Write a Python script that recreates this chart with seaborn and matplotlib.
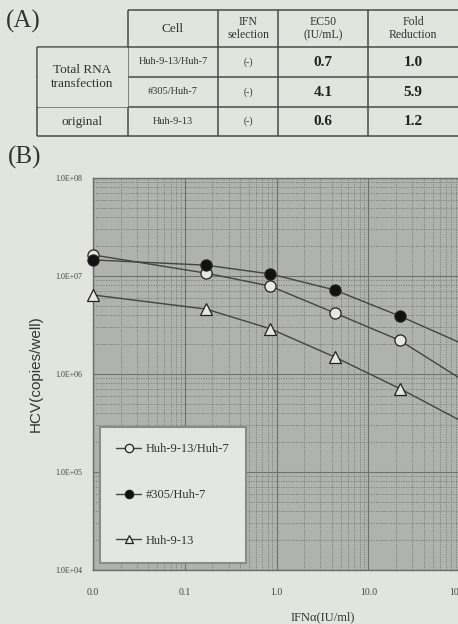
import matplotlib
matplotlib.use("Agg")
import matplotlib.pyplot as plt
import seaborn as sns
import numpy as np
import pandas as pd

# ---- data -------------------------------------------------------------
ifn_dose = [0.01, 0.17, 0.85, 4.3, 22, 110]          # IU/ml (0 plotted at 0.01)
hcv_huh913_huh7 = [1.64e7, 1.07e7, 7.9e6, 4.2e6, 2.2e6, 8.5e5]
hcv_305_huh7 = [1.46e7, 1.29e7, 1.05e7, 7.2e6, 3.9e6, 2.0e6]
hcv_huh913 = [6.4e6, 4.6e6, 2.9e6, 1.49e6, 7.1e5, 3.2e5]
series_names = ["Huh-9-13/Huh-7", "#305/Huh-7", "Huh-9-13"]

x_ticks = [0.01, 0.1, 1, 10, 100, 1000]
x_tick_labels = ["0.0", "0.1", "1.0", "10.0", "100.0", "1000.0"]
y_ticks = [1e4, 1e5, 1e6, 1e7, 1e8]
y_tick_labels = ["1.0E+04", "1.0E+05", "1.0E+06", "1.0E+07", "1.0E+08"]

table_header = ["Cell", "IFN\nselection", "EC50\n(IU/mL)", "Fold\nReduction"]
table_groups = ["Total RNA\ntransfection", "original"]
table_cells = ["Huh-9-13/Huh-7", "#305/Huh-7", "Huh-9-13"]
table_ifn = ["(-)", "(-)", "(-)"]
table_ec50 = ["0.7", "4.1", "0.6"]
table_fold = ["1.0", "5.9", "1.2"]

# ---- style ------------------------------------------------------------
BG = "#e2e4de"
PLOT_BG = "#b0b2ad"
sns.set_theme(style="ticks")
plt.rcParams["font.family"] = ["Liberation Serif", "DejaVu Serif"]

fig = plt.figure(figsize=(4.58, 6.24), dpi=100)
fig.patch.set_facecolor(BG)

# ---- table (A), drawn in pixel coordinates ---------------------------
tax = fig.add_axes([0, 0, 1, 1], zorder=0)
tax.set_xlim(0, 458)
tax.set_ylim(624, 0)
tax.axis("off")

col_x = [128, 218, 278, 368, 470]
row_y = [10, 47, 77, 107, 136]
lc = "#4a4a4a"
lw = 1.1
tax.hlines(row_y[0], col_x[0], col_x[-1], color=lc, lw=lw)
for y in row_y[1:]:
    tax.hlines(y, 37, col_x[-1], color=lc, lw=lw)
tax.vlines(37, row_y[1], row_y[-1], color=lc, lw=lw)
for x in col_x[:-1]:
    tax.vlines(x, row_y[0], row_y[-1], color=lc, lw=lw)

centers = [(a + b) / 2 for a, b in zip(col_x[:-1], [218, 278, 368, 458])]
for cx, txt in zip(centers, table_header):
    fs = 9.5 if txt == "Cell" else 8.5
    tax.text(cx, (row_y[0] + row_y[1]) / 2, txt, ha="center", va="center",
             fontsize=fs, color="#333", linespacing=1.1)

# the two transfection rows share one label cell
tax.fill_between([37.6, 127.4], row_y[1] + 0.6, row_y[3] - 0.6, color=BG, zorder=3)
tax.text(82, (row_y[1] + row_y[3]) / 2, table_groups[0], ha="center", va="center",
         fontsize=9.5, color="#333", linespacing=1.2, zorder=4)
tax.text(82, (row_y[3] + row_y[4]) / 2, table_groups[1], ha="center", va="center",
         fontsize=9.5, color="#333", zorder=4)

for i in range(3):
    cy = (row_y[i + 1] + row_y[i + 2]) / 2
    tax.text(centers[0], cy, table_cells[i], ha="center", va="center",
             fontsize=7.5, color="#333")
    tax.text(centers[1], cy, table_ifn[i], ha="center", va="center",
             fontsize=7, color="#333")
    tax.text(centers[2], cy, table_ec50[i], ha="center", va="center",
             fontsize=11, color="#222", fontweight="bold")
    tax.text(centers[3], cy, table_fold[i], ha="center", va="center",
             fontsize=11, color="#222", fontweight="bold")

fig.text(23 / 458, 1 - 21 / 624, "(A)", ha="center", va="center",
         fontsize=18, color="#333")
fig.text(25 / 458, 1 - 157 / 624, "(B)", ha="center", va="center",
         fontsize=18, color="#333")

# ---- plot (B) ---------------------------------------------------------
ax = fig.add_axes([93 / 458, 54 / 624, 459 / 458, 392 / 624], zorder=2)
ax.set_facecolor(PLOT_BG)

df = pd.DataFrame({
    "dose": ifn_dose * 3,
    "hcv": hcv_huh913_huh7 + hcv_305_huh7 + hcv_huh913,
    "cell": sum([[n] * len(ifn_dose) for n in series_names], []),
})

marker_styles = {
    "Huh-9-13/Huh-7": dict(marker="o", markerfacecolor="#e6e7e2"),
    "#305/Huh-7": dict(marker="o", markerfacecolor="#111111"),
    "Huh-9-13": dict(marker="^", markerfacecolor="#e6e7e2"),
}
for name in series_names:
    sub = df[df["cell"] == name]
    sns.lineplot(data=sub, x="dose", y="hcv", ax=ax, color="#444444", lw=1.0,
                 markersize=8, markeredgecolor="#222222", markeredgewidth=0.9,
                 label=name, clip_on=False, zorder=5, **marker_styles[name])

ax.set_xscale("log")
ax.set_yscale("log")
ax.set_xlim(0.01, 1000)
ax.set_ylim(1e4, 1e8)

ax.grid(which="major", color="#6f716c", lw=0.8, ls="-")
ax.grid(which="minor", color="#7a7c77", lw=0.6, ls=(0, (1.5, 1.5)))
ax.set_axisbelow(True)

ax.set_xticks(x_ticks)
ax.set_xticklabels(x_tick_labels)
ax.set_yticks(y_ticks)
ax.set_yticklabels(y_tick_labels)
ax.tick_params(axis="both", which="both", length=0)
ax.tick_params(axis="x", pad=13, labelsize=7, labelcolor="#444")
ax.tick_params(axis="y", pad=8, labelsize=5.8, labelcolor="#444")
for s in ax.spines.values():
    s.set_color("#6a6c67")
    s.set_linewidth(1.0)

ax.set_xlabel("IFN\u03b1(IU/ml)", fontsize=9, color="#333", labelpad=10)
ax.set_ylabel("HCV(copies/well)", fontsize=11, color="#333", labelpad=9,
              family=["Liberation Sans", "DejaVu Sans"])

leg = ax.legend(loc="lower left", bbox_to_anchor=(7 / 459, 7 / 392),
                frameon=True, fontsize=9, labelspacing=2.7, handlelength=2.0,
                handletextpad=0.35, borderpad=1.3, borderaxespad=0,
                markerscale=0.75)
frame = leg.get_frame()
frame.set_facecolor("#e4e6e1")
frame.set_edgecolor("#8a8c87")
frame.set_linewidth(1.5)
frame.set_alpha(1)
frame.set_boxstyle("square", pad=0)
for t in leg.get_texts():
    t.set_color("#333")

fig.savefig("out.png", dpi=100, facecolor=BG)
